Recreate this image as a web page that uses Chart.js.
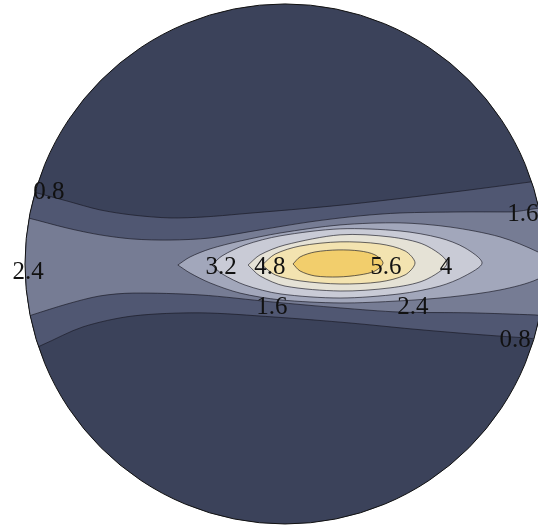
<!DOCTYPE html>
<html>
<head>
<meta charset="utf-8">
<script src="https://cdn.jsdelivr.net/npm/chart.js@4"></script>
<style>
  html, body { margin: 0; padding: 0; background: #fff; }
  #wrap { width: 538px; height: 530px; }
</style>
</head>
<body>
<div id="wrap"><canvas id="contourDisk"></canvas></div>
<script>
// contour levels and the closed outline of the region above each one (unit disk coords)
const levels = [0.8, 1.6, 2.4, 3.2, 4, 4.8, 5.6];

const contour08 = [
  [-1.058, 0.300], [-0.969, 0.277], [-0.838, 0.242], [-0.712, 0.208], [-0.585, 0.188],
  [-0.442, 0.177], [-0.308, 0.181], [-0.173, 0.192], [0.223, 0.227], [0.619, 0.273],
  [0.942, 0.315], [1.058, 0.331],
  [1.058, -0.292], [0.935, -0.285], [0.712, -0.269], [0.488, -0.250], [0.250, -0.227],
  [-0.042, -0.204], [-0.327, -0.188], [-0.585, -0.200], [-0.777, -0.242], [-0.935, -0.312],
  [-1.058, -0.362]
];

const contour16 = [
  [-1.058, 0.192], [-0.988, 0.177], [-0.838, 0.138], [-0.712, 0.112], [-0.585, 0.096],
  [-0.442, 0.092], [-0.288, 0.100], [-0.096, 0.131], [0.096, 0.162], [0.288, 0.185],
  [0.442, 0.196], [0.673, 0.200], [0.865, 0.200], [1.058, 0.200],
  [1.058, -0.200], [0.962, -0.196], [0.712, -0.188], [0.442, -0.185], [0.212, -0.169],
  [-0.050, -0.146], [-0.327, -0.119], [-0.585, -0.112], [-0.712, -0.123], [-0.838, -0.154],
  [-0.973, -0.196], [-1.058, -0.223]
];

const contour24 = [
  [-0.412, -0.004], [-0.365, 0.027], [-0.288, 0.058], [-0.173, 0.088], [-0.019, 0.119],
  [0.212, 0.150], [0.442, 0.158], [0.635, 0.142], [0.827, 0.104], [0.973, 0.046],
  [1.042, 0.000], [0.973, -0.058], [0.827, -0.100], [0.635, -0.127], [0.442, -0.142],
  [0.212, -0.150], [-0.019, -0.138], [-0.173, -0.112], [-0.288, -0.073], [-0.365, -0.035]
];

const contour32 = [
  [-0.281, -0.004], [-0.242, 0.031], [-0.154, 0.073], [-0.019, 0.108], [0.212, 0.135],
  [0.442, 0.127], [0.596, 0.100], [0.692, 0.062], [0.758, 0.004], [0.692, -0.046],
  [0.596, -0.085], [0.442, -0.115], [0.212, -0.131], [-0.019, -0.115], [-0.154, -0.081],
  [-0.242, -0.038]
];

const contour40 = [
  [-0.142, -0.004], [-0.096, 0.035], [0.000, 0.073], [0.212, 0.112], [0.404, 0.104],
  [0.538, 0.073], [0.623, 0.004], [0.538, -0.062], [0.404, -0.092], [0.212, -0.104],
  [0.000, -0.085], [-0.096, -0.046]
];

const contour48 = [
  [-0.088, -0.004], [-0.038, 0.038], [0.058, 0.069], [0.212, 0.085], [0.365, 0.077],
  [0.462, 0.050], [0.500, 0.004], [0.462, -0.042], [0.365, -0.069], [0.212, -0.077],
  [0.058, -0.065], [-0.038, -0.042]
];

const contour56 = [
  [0.031, 0.000], [0.058, 0.027], [0.115, 0.046], [0.204, 0.054], [0.288, 0.050],
  [0.346, 0.035], [0.377, 0.004], [0.346, -0.027], [0.288, -0.042], [0.204, -0.050],
  [0.115, -0.046], [0.058, -0.027]
];

const contours = [contour08, contour16, contour24, contour32, contour40, contour48, contour56];

// contour labels and where they sit
const labelText = ["0.8", "1.6", "2.4", "3.2", "4.8", "5.6", "4", "1.6", "2.4", "0.8"];
const labelAt = [
  [-0.908, 0.277], [0.915, 0.196], [-0.988, -0.030], [-0.246, -0.008], [-0.058, -0.008],
  [0.388, -0.008], [0.619, -0.008], [-0.050, -0.165], [0.492, -0.165], [0.885, -0.292]
];

const baseColor = "#3b425a";
const bandColors = ["#505772", "#767c94", "#a2a7bb", "#c9cbd6", "#e5e2d6", "#f3e3b0", "#f2ce6c"];

const diskPlugin = {
  id: "disk",
  beforeDatasetsDraw(chart) {
    const { ctx, scales } = chart;
    const cx = scales.x.getPixelForValue(0);
    const cy = scales.y.getPixelForValue(0);
    const r = scales.x.getPixelForValue(1) - cx;
    ctx.save();
    ctx.beginPath();
    ctx.arc(cx, cy, r, 0, Math.PI * 2);
    ctx.fillStyle = baseColor;
    ctx.fill();
    ctx.clip();
  },
  afterDatasetsDraw(chart) {
    const { ctx, scales } = chart;
    ctx.restore();
    const cx = scales.x.getPixelForValue(0);
    const cy = scales.y.getPixelForValue(0);
    const r = scales.x.getPixelForValue(1) - cx;
    ctx.save();
    ctx.beginPath();
    ctx.arc(cx, cy, r, 0, Math.PI * 2);
    ctx.strokeStyle = "#111";
    ctx.lineWidth = 1;
    ctx.stroke();

    ctx.font = '25px "Liberation Serif", "Times New Roman", serif';
    ctx.fillStyle = "#111";
    ctx.textAlign = "center";
    ctx.textBaseline = "middle";
    labelText.forEach((t, i) => {
      const px = scales.x.getPixelForValue(labelAt[i][0]);
      const py = scales.y.getPixelForValue(labelAt[i][1]);
      ctx.fillText(t, px, py + 1);
    });
    ctx.restore();
  }
};

const datasets = contours.map((pts, i) => {
  const closed = pts.concat([pts[0]]);
  return {
    label: String(levels[i]),
    data: closed.map(p => ({ x: p[0], y: p[1] })),
    order: levels.length - i,
    fill: "shape",
    backgroundColor: bandColors[i],
    borderColor: "rgba(25, 25, 35, 0.65)",
    borderWidth: 1,
    pointRadius: 0,
    tension: 0.3,
    capBezierPoints: false
  };
});

new Chart(document.getElementById("contourDisk"), {
  type: "line",
  data: { datasets },
  options: {
    responsive: true,
    maintainAspectRatio: false,
    animation: false,
    layout: { padding: 0 },
    elements: { line: { capBezierPoints: false } },
    scales: {
      x: { type: "linear", min: -1.096, max: 0.973, display: false },
      y: { type: "linear", min: -1.023, max: 1.015, display: false }
    },
    plugins: {
      legend: { display: false },
      tooltip: { enabled: false }
    }
  },
  plugins: [diskPlugin]
});
</script>
</body>
</html>
